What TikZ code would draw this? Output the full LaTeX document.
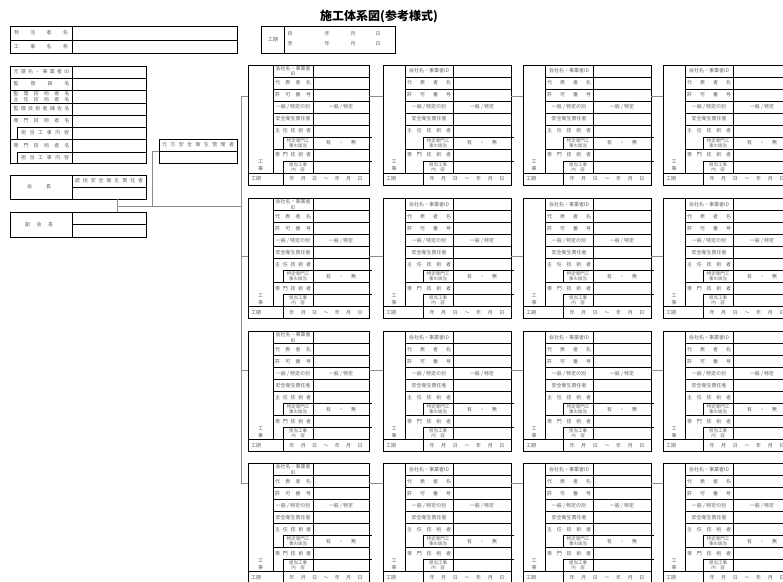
\documentclass[tikz,border=0pt]{standalone}
\usepackage{fontspec}
\newfontfamily\jp{Noto Sans CJK JP}
\tikzset{
  frame/.style={line width=0.9pt, draw=black},
  conn/.style={line width=0.9pt, draw=black!45},
  lbl/.style={font=\jp\fontsize{5}{5.6}\selectfont, text=black!62, inner sep=0pt},
  smalllbl/.style={font=\jp\fontsize{4.5}{5}\selectfont, text=black!62, inner sep=0pt, align=center},
}
\def\rh{12.0}
% #1 x0, #2 y0, #3 dx1, #4 dxi, #5 dx2, #6 dx3, #7 name, #8 label width, #9 id label
\newcommand\sekocard[9]{%
  \pgfmathsetmacro\cA{#1}\pgfmathsetmacro\cB{#1+#3}\pgfmathsetmacro\cI{#1+#4}%
  \pgfmathsetmacro\cC{#1+#5}\pgfmathsetmacro\cD{#1+#6}\pgfmathsetmacro\cT{#2}%
  \pgfmathsetmacro\cL{(\cB+\cC)/2}\pgfmathsetmacro\cM{(\cI+\cC)/2}%
  \pgfmathsetmacro\cV{(\cC+\cD)/2}\pgfmathsetmacro\cP{(\cI+\cD)/2}%
  \pgfmathsetmacro\cPW{0.85*(#6-#4)}\pgfmathsetmacro\cK{(\cA+\cB)/2}%
  \coordinate (#7-nw) at (\cA,\cT);
  \coordinate (#7-ne) at (\cD,\cT);
  \draw[frame] (\cA,\cT) rectangle (\cD,{\cT+10*\rh});
  \draw[frame] (\cA,{\cT+9*\rh}) -- (\cD,{\cT+9*\rh});
  \draw[frame] (\cB,\cT) -- (\cB,{\cT+9*\rh});
  \draw[frame] (\cC,\cT) -- (\cC,{\cT+9*\rh});
  \foreach \k in {1,...,5} {\draw[frame] (\cB,{\cT+\k*\rh}) -- (\cD,{\cT+\k*\rh});}
  \draw[frame] (\cI,{\cT+6*\rh}) -- ({\cD+3},{\cT+6*\rh});
  \draw[frame] (\cB,{\cT+7*\rh}) -- (\cD,{\cT+7*\rh});
  \draw[frame] (\cI,{\cT+8*\rh}) -- ({\cD+3},{\cT+8*\rh});
  \draw[frame] (\cI,{\cT+6*\rh}) -- (\cI,{\cT+7*\rh});
  \draw[frame] (\cI,{\cT+8*\rh}) -- (\cI,{\cT+10*\rh});
  \node[lbl,align=center] (#7-id) at (\cL,{\cT+0.5*\rh}) {#9};
  \node[lbl] (#7-rep) at (\cL,{\cT+1.5*\rh}) {\makebox[#8pt][s]{代\hfil 表\hfil 者\hfil 名}};
  \node[lbl] (#7-lic) at (\cL,{\cT+2.5*\rh}) {\makebox[#8pt][s]{許\hfil 可\hfil 番\hfil 号}};
  \node[lbl] (#7-kind) at (\cL,{\cT+3.5*\rh}) {一般 / 特定の別};
  \node[lbl] (#7-safe) at (\cL,{\cT+4.5*\rh}) {安全衛生責任者};
  \node[lbl] (#7-chief) at (\cL,{\cT+5.5*\rh}) {\makebox[#8pt][s]{主\hfil 任\hfil 技\hfil 術\hfil 者}};
  \node[smalllbl] (#7-spec) at (\cM,{\cT+6.5*\rh}) {特定専門工\\事の該当};
  \node[lbl] (#7-eng) at (\cL,{\cT+7.5*\rh}) {\makebox[#8pt][s]{専\hfil 門\hfil 技\hfil 術\hfil 者}};
  \node[smalllbl] (#7-work) at (\cM,{\cT+8.5*\rh}) {担当工事\\内\quad 容};
  \node[lbl,align=center,font=\jp\fontsize{5}{7}\selectfont] (#7-koji) at (\cK,{\cT+8.4*\rh}) {工\\事};
  \node[lbl,anchor=west] (#7-kiL) at ({\cA+3},{\cT+9.5*\rh}) {工期};
  \node[lbl] (#7-v3) at (\cV,{\cT+3.5*\rh}) {一般 / 特定};
  \node[lbl] (#7-v6) at (\cV,{\cT+6.5*\rh}) {\makebox[30pt][s]{有\hfil ・\hfil 無}};
  \node[lbl] (#7-v9) at (\cP,{\cT+9.5*\rh}) {\makebox[\cPW pt][s]{年\hfil 月\hfil 日\hfil ～\hfil 年\hfil 月\hfil 日}};
}
\begin{document}
\begin{tikzpicture}[x=1pt,y=-1pt]
\useasboundingbox (0,0) rectangle (783,581);
\fill[white] (0,0) rectangle (783,581);
\clip (0,0) rectangle (783,581);

% title
\node[font=\jp\bfseries\fontsize{12}{12}\selectfont, inner sep=0pt] (title) at (379,17) {施工体系図(参考様式)};

% top-left table
\draw[frame] (10,26) rectangle (237,53);
\draw[frame] (72,26) -- (72,53);
\draw[frame] (10,40) -- (237,40);
\node[lbl] (hachu) at (41,33) {\makebox[54pt][s]{発\hfil 注\hfil 者\hfil 名}};
\node[lbl] (kojimei) at (41,46.5) {\makebox[54pt][s]{工\hfil 事\hfil 名\hfil 称}};

% top period table
\draw[frame] (261,26) rectangle (395,53);
\draw[frame] (284,26) -- (284,53);
\node[lbl] (kiLbl) at (273,39.5) {工期};
\node[lbl] (ji) at (290,34) {自};
\node[lbl] (y1) at (327,34) {年};
\node[lbl] (m1) at (353,34) {月};
\node[lbl] (d1) at (378,34) {日};
\node[lbl] (shi) at (290,44) {至};
\node[lbl] (y2) at (327,44) {年};
\node[lbl] (m2) at (353,44) {月};
\node[lbl] (d2) at (378,44) {日};

% main left table
\draw[frame] (10,66) rectangle (146,163);
\draw[frame] (72,66) -- (72,163);
\foreach \yy in {78,90,103,115,139} {\draw[frame] (10,\yy) -- (146,\yy);}
\draw[frame] (17,127) -- (146,127);
\draw[frame] (17,152) -- (146,152);
\draw[frame] (17,127) -- (17,139);
\draw[frame] (17,152) -- (17,163);
\node[lbl] (t1) at (41.5,72) {\makebox[56pt][s]{元\hfil 請\hfil 名\hfil ・\hfil 事\hfil 業\hfil 者\hfil I\kern0.2pt D}};
\node[lbl] (t2) at (41.5,84) {\makebox[56pt][s]{監\hfil 督\hfil 員\hfil 名}};
\node[lbl,align=center] (t3) at (41.5,96.5) {\makebox[56pt][s]{監\hfil 理\hfil 技\hfil 術\hfil 者\hfil 名}\\\makebox[56pt][s]{主\hfil 任\hfil 技\hfil 術\hfil 者\hfil 名}};
\node[lbl] (t4) at (41.5,109) {\makebox[56pt][s]{監\hfil 理\hfil 技\hfil 術\hfil 者\hfil 補\hfil 佐\hfil 名}};
\node[lbl] (t5) at (41.5,121) {\makebox[56pt][s]{専\hfil 門\hfil 技\hfil 術\hfil 者\hfil 名}};
\node[lbl] (t6) at (45,133) {\makebox[48pt][s]{担\hfil 当\hfil 工\hfil 事\hfil 内\hfil 容}};
\node[lbl] (t7) at (41.5,145.5) {\makebox[56pt][s]{専\hfil 門\hfil 技\hfil 術\hfil 者\hfil 名}};
\node[lbl] (t8) at (45,157.5) {\makebox[48pt][s]{担\hfil 当\hfil 工\hfil 事\hfil 内\hfil 容}};

% motokata box
\draw[frame] (159,139) rectangle (237,163);
\draw[frame] (159,151) -- (237,151);
\node[lbl] (moto) at (198,145) {\makebox[72pt][s]{元\hfil 方\hfil 安\hfil 全\hfil 衛\hfil 生\hfil 管\hfil 理\hfil 者}};

% kaicho box
\draw[frame] (10,175) rectangle (146,199);
\draw[frame] (72,175) -- (72,199);
\draw[frame] (72,187) -- (146,187);
\node[lbl] (kaicho) at (39,187) {\makebox[24pt][s]{会\hfil 長}};
\node[lbl] (tokatsu) at (109,181) {\makebox[68pt][s]{統\hfil 括\hfil 安\hfil 全\hfil 衛\hfil 生\hfil 責\hfil 任\hfil 者}};

% fuku kaicho box
\draw[frame] (10,212) rectangle (146,237);
\draw[frame] (72,212) -- (72,237);
\draw[frame] (72,224.5) -- (146,224.5);
\node[lbl] (fuku) at (39,224.5) {\makebox[28pt][s]{副\hfil 会\hfil 長}};

% cards
\sekocard{248}{65}{25}{35}{65}{121}{c11}{36}{会社名・事業者\\ID}
\sekocard{383}{65}{22}{40}{70}{128}{c12}{44}{会社名・事業者ID}
\sekocard{523}{65}{22}{40}{70}{128}{c13}{44}{会社名・事業者ID}
\sekocard{663}{65}{22}{40}{70}{128}{c14}{44}{会社名・事業者ID}
\sekocard{248}{198.5}{25}{35}{65}{121}{c21}{36}{会社名・事業者\\ID}
\sekocard{383}{198.5}{22}{40}{70}{128}{c22}{44}{会社名・事業者ID}
\sekocard{523}{198.5}{22}{40}{70}{128}{c23}{44}{会社名・事業者ID}
\sekocard{663}{198.5}{22}{40}{70}{128}{c24}{44}{会社名・事業者ID}
\sekocard{248}{331.5}{25}{35}{65}{121}{c31}{36}{会社名・事業者\\ID}
\sekocard{383}{331.5}{22}{40}{70}{128}{c32}{44}{会社名・事業者ID}
\sekocard{523}{331.5}{22}{40}{70}{128}{c33}{44}{会社名・事業者ID}
\sekocard{663}{331.5}{22}{40}{70}{128}{c34}{44}{会社名・事業者ID}
\sekocard{248}{463.5}{25}{35}{65}{121}{c41}{36}{会社名・事業者\\ID}
\sekocard{383}{463.5}{22}{40}{70}{128}{c42}{44}{会社名・事業者ID}
\sekocard{523}{463.5}{22}{40}{70}{128}{c43}{44}{会社名・事業者ID}
\sekocard{663}{463.5}{22}{40}{70}{128}{c44}{44}{会社名・事業者ID}

% connectors
\coordinate (kaichoB) at (117,199);
\coordinate (fukuT) at (117,212);
\coordinate (jn) at (117,206);
\coordinate (tr1) at (241,96);
\coordinate (tr2) at (241,256);
\coordinate (tr3) at (241,370);
\coordinate (tr4) at (241,483);
\coordinate (trJ) at (241,206);
\coordinate (motoL) at (159,151);
\draw[conn] (kaichoB) -- (fukuT);
\draw[conn] (jn) -- (trJ);
\draw[conn] (motoL) -- ++(-7,0) |- (trJ);
\draw[conn] (tr1) -- (tr4);
\foreach \r in {1,2,3,4} {
  \draw[conn] (tr\r) -- (tr\r -| c\r1-nw);
  \draw[conn] (c\r1-ne |- tr\r) -- (c\r2-nw |- tr\r);
  \draw[conn] (c\r2-ne |- tr\r) -- (c\r3-nw |- tr\r);
  \draw[conn] (c\r3-ne |- tr\r) -- (c\r4-nw |- tr\r);
}
\end{tikzpicture}
\end{document}
